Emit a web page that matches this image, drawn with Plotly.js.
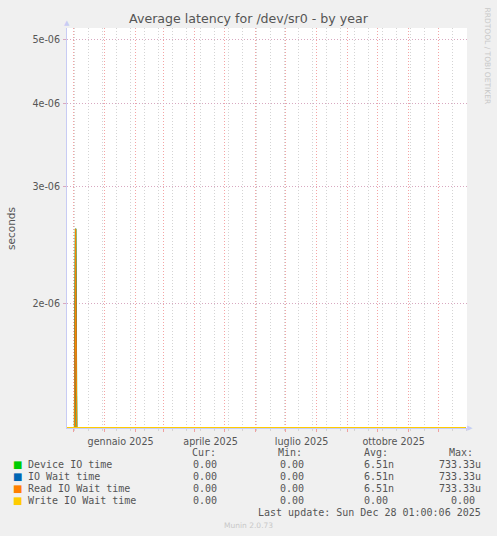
<!DOCTYPE html>
<html>
<head>
<meta charset="utf-8">
<script src="https://cdn.plot.ly/plotly-3.0.1.min.js"></script>
<style>
  html, body { margin: 0; padding: 0; background: #f0f0f0; }
  #plot { width: 497px; height: 536px; }
</style>
</head>
<body>
<div id="plot"></div>
<script>
// samples where the series change (daily averages, seconds)
var sampleDates = ['2024-11-24 00:00', '2024-12-02 00:00', '2024-12-03 00:00', '2024-12-04 00:00', '2025-12-28 01:00'];
var deviceIO  = [0, 0, 2.59e-6, 0, 0];
var ioWait    = [0, 0, 2.59e-6, 0, 0];
var readIO    = [0, 0, 2.59e-6, 0, 0];
var writeIO   = [0, 0, 0, 0, 0];

var seriesNames  = ['Device IO time', 'IO Wait time', 'Read IO Wait time', 'Write IO Wait time'];
var seriesColors = ['#00cc00', '#0066b3', '#ff8000', '#ffcc00'];
var curVals = ['0.00 ', '0.00 ', '0.00 ', '0.00 '];
var minVals = ['0.00 ', '0.00 ', '0.00 ', '0.00 '];
var avgVals = ['6.51n', '6.51n', '6.51n', '0.00 '];
var maxVals = ['733.33u', '733.33u', '733.33u', '0.00 '];
var colHeads = ['Cur:', 'Min:', 'Avg:', 'Max:'];

var monthTicks  = ['2024-12-01', '2025-01-01', '2025-02-01', '2025-03-01', '2025-04-01', '2025-05-01',
                   '2025-06-01', '2025-07-01', '2025-08-01', '2025-09-01', '2025-10-01', '2025-11-01', '2025-12-01'];
var monthLabels = ['', 'gennaio 2025', '', '', 'aprile 2025', '', '', 'luglio 2025', '', '', 'ottobre 2025', '', ''];

var yTickVals = [2e-6, 3e-6, 4e-6, 5e-6];
var yTickText = ['2e-06', '3e-06', '4e-06', '5e-06'];

var yRange = [-5.8875, -5.2835];
var xRange = ['2024-11-24 09:36', '2025-12-29 09:36'];

// plot box in pixels, used to place the decorations
var L = 67, T = 28, W = 400, H = 400;
function px(x) { return (x - L) / W; }
function py(y) { return (T + H - y) / H; }

// rrdtool clamps values below the axis onto the bottom edge
var floorVal = Math.pow(10, yRange[0]);
function clamp(arr) { return arr.map(function(v){ return Math.max(v, floorVal); }); }

var allSeries = [deviceIO, ioWait, readIO, writeIO];
var lineWidths = [1.6, 1.2, 1.2, 2.2];
var data = allSeries.map(function(vals, i) {
  return {
    x: sampleDates,
    y: clamp(vals),
    type: 'scatter',
    mode: 'lines',
    line: {color: seriesColors[i], width: lineWidths[i]},
    name: seriesNames[i],
    hoverinfo: 'skip'
  };
});

var mono = 'DejaVu Sans Mono, monospace';
var sans = 'DejaVu Sans, sans-serif';
var annotations = [];

// legend rows
var rowY = [464.3, 476.7, 488.5, 500.7];
seriesNames.forEach(function(name, i) {
  annotations.push({xref: 'paper', yref: 'paper', x: px(17), y: py(rowY[i]), xanchor: 'center', yanchor: 'middle',
    text: '■', showarrow: false, font: {family: sans, size: 10, color: seriesColors[i]}});
  annotations.push({xref: 'paper', yref: 'paper', x: px(26), y: py(rowY[i]), xanchor: 'left', yanchor: 'middle',
    text: name, showarrow: false, font: {family: mono, size: 10, color: '#555'}});
  [curVals, minVals, avgVals, maxVals].forEach(function(col, c) {
    var right = [225.3, 311.7, 396.2, 482.7][c];
    annotations.push({xref: 'paper', yref: 'paper', x: px(right), y: py(rowY[i]), xanchor: 'right', yanchor: 'middle',
      text: col[i].replace(/ /g, '\u00a0'), showarrow: false, font: {family: mono, size: 10, color: '#555'}});
  });
});
colHeads.forEach(function(h, c) {
  var left = [190, 276, 361.7, 446.7][c];
  annotations.push({xref: 'paper', yref: 'paper', x: px(left), y: py(452.3), xanchor: 'left', yanchor: 'middle',
    text: h, showarrow: false, font: {family: mono, size: 10, color: '#555'}});
});
annotations.push({xref: 'paper', yref: 'paper', x: px(483), y: py(512.7), xanchor: 'right', yanchor: 'middle',
  text: 'Last update: Sun Dec 28 01:00:06 2025', showarrow: false, font: {family: mono, size: 10, color: '#555'}});
annotations.push({xref: 'paper', yref: 'paper', x: px(248), y: py(525), xanchor: 'center', yanchor: 'middle',
  text: 'Munin 2.0.73', showarrow: false, font: {family: sans, size: 7.5, color: '#c8c8c8'}});
annotations.push({xref: 'paper', yref: 'paper', x: px(487), y: py(5), xanchor: 'center', yanchor: 'top',
  text: 'RRDTOOL / TOBI OETIKER', textangle: 90, showarrow: false, font: {family: sans, size: 7.5, color: '#c8c8c8'}});
annotations.push({xref: 'paper', yref: 'paper', x: px(11), y: py(228), xanchor: 'center', yanchor: 'middle',
  text: 'seconds', textangle: -90, showarrow: false, font: {family: sans, size: 10.5, color: '#555'}});
// axis arrow heads
annotations.push({xref: 'paper', yref: 'paper', x: px(66.7), y: py(23), xanchor: 'center', yanchor: 'middle',
  text: '▲', showarrow: false, font: {family: sans, size: 7, color: '#c8ccf4'}});
annotations.push({xref: 'paper', yref: 'paper', x: px(470), y: py(428), xanchor: 'center', yanchor: 'middle',
  text: '▶', showarrow: false, font: {family: sans, size: 7, color: '#c8ccf4'}});

var layout = {
  width: 497,
  height: 536,
  paper_bgcolor: '#f0f0f0',
  plot_bgcolor: '#ffffff',
  showlegend: false,
  margin: {l: L, r: 497 - L - W, t: T, b: 536 - T - H, pad: 0},
  title: {
    text: 'Average latency for /dev/sr0 - by year',
    x: 0.5, xanchor: 'center',
    y: 1 - 19 / 536, yanchor: 'middle', yref: 'container',
    font: {family: sans, size: 12.6, color: '#555'}
  },
  xaxis: {
    type: 'date',
    range: xRange,
    tickmode: 'array',
    tickvals: monthTicks,
    ticktext: monthLabels,
    ticks: 'outside', ticklen: 3, tickcolor: '#f0a0a0',
    ticklabelshift: 16,
    ticklabelstandoff: 1,
    tickfont: {family: sans, size: 9.6, color: '#555'},
    showgrid: true, gridcolor: '#f4a4a4', griddash: '1px,2px', gridwidth: 1,
    minor: {dtick: 14 * 86400000, tick0: '2024-12-02', showgrid: true, gridcolor: '#d4d4d4',
            griddash: '1px,2px', gridwidth: 1, ticks: 'outside', ticklen: 2, tickcolor: '#d4d4d4'},
    showline: true, linecolor: '#c8ccf4', linewidth: 1,
    zeroline: false, fixedrange: true
  },
  yaxis: {
    type: 'log',
    range: yRange,
    tickmode: 'array',
    tickvals: yTickVals,
    ticktext: yTickText,
    ticks: 'outside', ticklen: 3, tickcolor: '#d8a8c0',
    ticklabelstandoff: 1,
    tickfont: {family: sans, size: 9.6, color: '#555'},
    showgrid: true, gridcolor: '#d8a8c0', griddash: '1px,2px', gridwidth: 1,
    showline: true, linecolor: '#c8ccf4', linewidth: 1,
    zeroline: false, fixedrange: true
  },
  annotations: annotations
};

Plotly.newPlot('plot', data, layout, {staticPlot: true});
</script>
</body>
</html>
